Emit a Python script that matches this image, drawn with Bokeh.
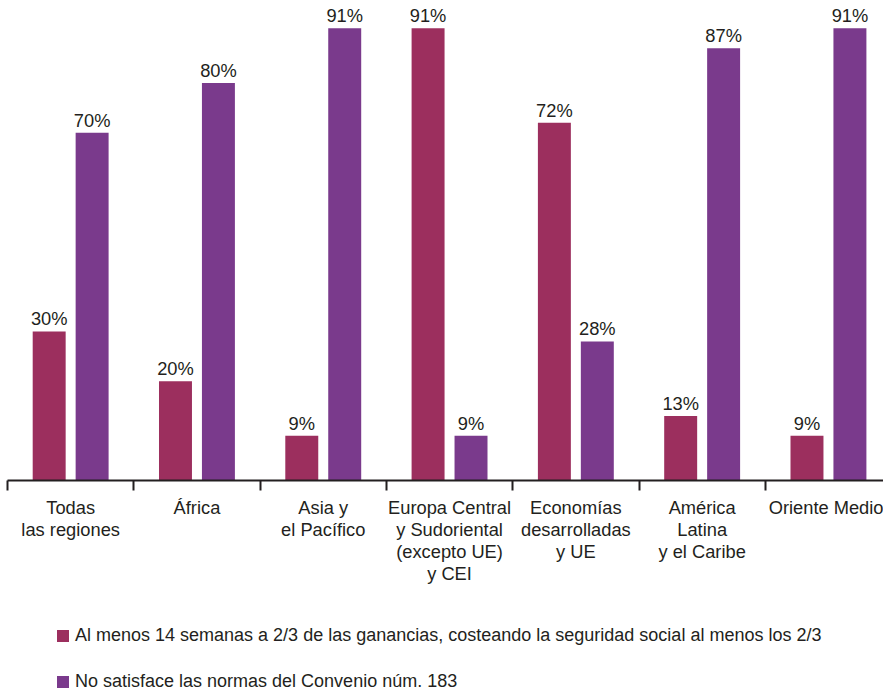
from bokeh.plotting import figure
from bokeh.models import (ColumnDataSource, LinearAxis, FixedTicker, Legend, LegendItem,
                          LabelSet, Range1d)
from bokeh.core.properties import value
from bokeh.layouts import column
from bokeh.embed import file_html
from bokeh.resources import INLINE

categories = ["Todas\nlas regiones", "África", "Asia y\nel Pacífico",
              "Europa Central\ny Sudoriental\n(excepto UE)\ny CEI",
              "Economías\ndesarrolladas\ny UE", "América\nLatina\ny el Caribe",
              "Oriente Medio"]
serie_a = [30, 20, 9, 91, 72, 13, 9]
serie_b = [70, 80, 91, 9, 28, 87, 91]
nombre_a = "Al menos 14 semanas a 2/3 de las ganancias, costeando la seguridad social al menos los 2/3"
nombre_b = "No satisface las normas del Convenio núm. 183"

COL_A = "#9C2F5E"
COL_B = "#7A3A8C"
TXT = "#231F20"
FONT = "Liberation Sans"
FS = "18.3px"

n = len(categories)
centers = [i + 0.5 for i in range(n)]
off = 0.170
bw = 0.261

src = ColumnDataSource(dict(
    xa=[c - off for c in centers], xb=[c + off for c in centers],
    a=serie_a, b=serie_b,
    la=[f"{v}%" for v in serie_a], lb=[f"{v}%" for v in serie_b],
))

W = 883
p = figure(width=W, height=590, output_backend="svg", toolbar_location=None,
           x_range=Range1d(0, (W - 7) / 126.3), y_range=Range1d(0, 95),
           min_border_left=7, min_border_right=0, min_border_top=8,
           min_border_bottom=110, x_axis_type=None, y_axis_type=None)
p.outline_line_color = None
p.xgrid.visible = False
p.ygrid.visible = False

ra = p.vbar(x="xa", top="a", width=bw, bottom=0, source=src, fill_color=COL_A, line_color=None)
rb = p.vbar(x="xb", top="b", width=bw, bottom=0, source=src, fill_color=COL_B, line_color=None)

for xf, yf, tf in (("xa", "a", "la"), ("xb", "b", "lb")):
    p.add_layout(LabelSet(x=xf, y=yf, text=tf, source=src, y_offset=6,
                          text_align="center", text_baseline="alphabetic",
                          text_font=value(FONT), text_font_size=value(FS),
                          text_color=TXT))

ax = LinearAxis(ticker=FixedTicker(ticks=centers, minor_ticks=list(range(n + 1))))
ax.major_label_overrides = {c: lab for c, lab in zip(centers, categories)}
ax.major_tick_line_color = None
ax.major_tick_out = 8
ax.major_tick_in = 0
ax.minor_tick_out = 10
ax.minor_tick_in = 0
ax.minor_tick_line_color = TXT
ax.minor_tick_line_width = 2
ax.axis_line_color = TXT
ax.axis_line_width = 2
ax.major_label_standoff = 6
ax.major_label_text_font = FONT
ax.major_label_text_font_size = FS
ax.major_label_text_color = TXT
ax.major_label_text_line_height = 1.05
p.add_layout(ax, "below")

# legend panel: same series renderers, kept outside the visible range of this panel
p2 = figure(width=W, height=104, output_backend="svg", toolbar_location=None,
            x_range=Range1d(100, 101), y_range=Range1d(100, 101),
            min_border_left=0, min_border_right=0, min_border_top=0, min_border_bottom=0,
            x_axis_type=None, y_axis_type=None)
p2.outline_line_color = None
p2.xgrid.visible = False
p2.ygrid.visible = False
la_r = p2.vbar(x="xa", top="a", width=bw, bottom=0, source=src, fill_color=COL_A, line_color=None)
lb_r = p2.vbar(x="xb", top="b", width=bw, bottom=0, source=src, fill_color=COL_B, line_color=None)
leg = Legend(items=[LegendItem(label=nombre_a, renderers=[la_r], index=0),
                    LegendItem(label=nombre_b, renderers=[lb_r], index=0)],
             location=(48, 2), orientation="vertical", spacing=25,
             glyph_width=15, glyph_height=15, label_standoff=5,
             padding=0, margin=0, border_line_color=None, background_fill_alpha=0,
             label_text_font=FONT, label_text_font_size="18px", label_text_color=TXT)
p2.add_layout(leg, "center")

open("out.html", "w").write(file_html(column(p, p2, spacing=0), INLINE))
